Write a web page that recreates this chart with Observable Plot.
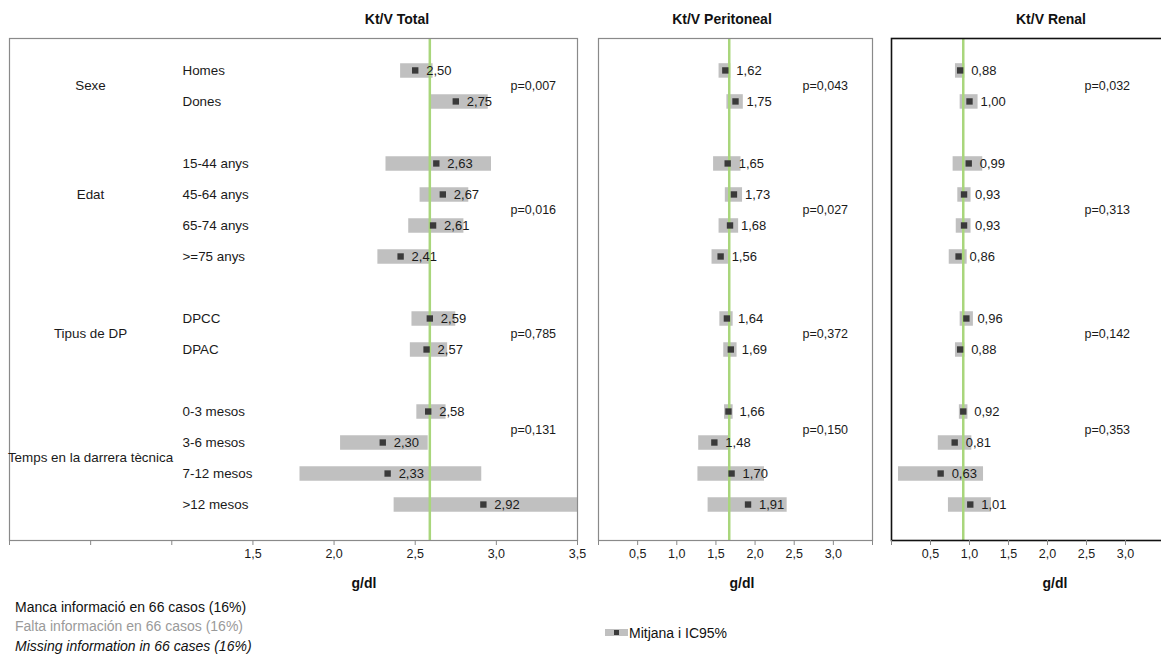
<!DOCTYPE html>
<html>
<head>
<meta charset="utf-8">
<script src="https://cdn.jsdelivr.net/npm/d3@7"></script>
<script src="https://cdn.jsdelivr.net/npm/@observablehq/plot@0.6"></script>
<style>
  html, body { margin: 0; padding: 0; background: #fff; }
  #wrap { position: relative; width: 1161px; height: 655px; overflow: hidden; font-family: "Liberation Sans", Arial, sans-serif; color: #111; }
  .abs { position: absolute; white-space: nowrap; }
  .title { font-weight: bold; font-size: 14px; transform: translate(-50%, -50%); }
  .note { font-size: 14px; transform: translateY(-50%); }
</style>
</head>
<body>
<div id="wrap"></div>
<script>
// ---- Data ----
const groups = ["Sexe", "Edat", "Tipus de DP", "Temps en la darrera tècnica"];
const categories = ["Homes", "Dones", "15-44 anys", "45-64 anys", "65-74 anys", ">=75 anys",
  "DPCC", "DPAC", "0-3 mesos", "3-6 mesos", "7-12 mesos", ">12 mesos"];
const categoryGroup = [0, 0, 1, 1, 1, 1, 2, 2, 3, 3, 3, 3];

const panelTitles = ["Kt/V Total", "Kt/V Peritoneal", "Kt/V Renal"];

const totalMean = [2.50, 2.75, 2.63, 2.67, 2.61, 2.41, 2.59, 2.57, 2.58, 2.30, 2.33, 2.92];
const totalLow  = [2.41, 2.59, 2.32, 2.53, 2.46, 2.27, 2.48, 2.47, 2.51, 2.04, 1.79, 2.37];
const totalHigh = [2.61, 2.95, 2.97, 2.83, 2.80, 2.59, 2.75, 2.70, 2.69, 2.58, 2.91, 3.52];

const periMean = [1.62, 1.75, 1.65, 1.73, 1.68, 1.56, 1.64, 1.69, 1.66, 1.48, 1.70, 1.91];
const periLow  = [1.54, 1.64, 1.47, 1.62, 1.54, 1.45, 1.55, 1.60, 1.61, 1.28, 1.27, 1.40];
const periHigh = [1.69, 1.85, 1.82, 1.84, 1.79, 1.66, 1.72, 1.77, 1.72, 1.67, 2.12, 2.41];

const renalMean = [0.88, 1.00, 0.99, 0.93, 0.93, 0.86, 0.96, 0.88, 0.92, 0.81, 0.63, 1.01];
const renalLow  = [0.82, 0.88, 0.79, 0.85, 0.83, 0.74, 0.88, 0.82, 0.87, 0.60, 0.09, 0.73];
const renalHigh = [0.94, 1.11, 1.17, 1.02, 1.02, 0.97, 1.05, 0.94, 0.98, 1.03, 1.18, 1.28];

const pTotal = ["p=0,007", "p=0,016", "p=0,785", "p=0,131"];
const pPeri  = ["p=0,043", "p=0,027", "p=0,372", "p=0,150"];
const pRenal = ["p=0,032", "p=0,313", "p=0,142", "p=0,353"];

const overallMean = [2.59, 1.67, 0.92];

const xTicks = [0, 0.5, 1.0, 1.5, 2.0, 2.5, 3.0, 3.5];
const labeledTicksTotal = [1.5, 2.0, 2.5, 3.0, 3.5];
const labeledTicksOther = [0.5, 1.0, 1.5, 2.0, 2.5, 3.0];

const notes = ["Manca informació en 66 casos (16%)", "Falta información en 66 casos (16%)", "Missing information in 66 cases (16%)"];
const legendLabel = "Mitjana i IC95%";
const axisLabel = "g/dl";

// ---- Layout helpers ----
const groupLabelRow = [0.5, 4, 8.5, 12.5];
const pRow = [0.5, 4.5, 8.5, 11.6];
const fmt = (v, n) => v.toFixed(n).replace(".", ",");
const FONT = "Liberation Sans, Arial, sans-serif";

function panel({left, width, marginLeft, marginRight, low, mean, high, pvals, overall, labeled, frameStroke, frameWidth, pDx, withLabels}) {
  const rows = categories.map((c, i) => ({cat: c, row: i + categoryGroup[i], low: low[i], mean: mean[i], high: high[i]}));
  const marks = [
    Plot.ruleY(rows, {y: "row", x1: "low", x2: "high", stroke: "#c0c0c0", strokeWidth: 14.5, clip: true}),
    Plot.ruleX([overall], {stroke: "#a9d67c", strokeWidth: 2.5}),
    Plot.dot(rows, {x: "mean", y: "row", symbol: "square", r: 3.6, fill: "#3a3a3a", stroke: null}),
    Plot.text(rows, {x: "mean", y: "row", text: d => fmt(d.mean, 2), dx: 11, textAnchor: "start", fill: "#1a1a1a", fontSize: 13}),
    Plot.text(pvals.map((p, k) => ({p, row: pRow[k]})), {y: "row", text: "p", frameAnchor: "right", dx: pDx, textAnchor: "start", fill: "#1a1a1a", fontSize: 12.5}),
    Plot.frame({stroke: frameStroke, strokeWidth: frameWidth}),
    Plot.axisX({ticks: xTicks, tickFormat: d => labeled.includes(d) ? fmt(d, 1) : "", tickSize: 5, tickPadding: 4,
      stroke: "#888", fill: "#1a1a1a", fontSize: 12.5, label: null})
  ];
  if (withLabels) {
    marks.push(Plot.text(rows, {y: "row", text: "cat", frameAnchor: "left", dx: 173, textAnchor: "start", fill: "#1a1a1a", fontSize: 13.4}));
    marks.push(Plot.text(groups.map((g, k) => ({g, row: groupLabelRow[k]})), {y: "row", text: "g", frameAnchor: "left", dx: 81, textAnchor: "middle", fill: "#1a1a1a", fontSize: 13.4}));
  }
  const svg = Plot.plot({
    width, height: 600,
    marginLeft, marginRight, marginTop: 38, marginBottom: 60,
    x: {domain: [0, 3.5], axis: null},
    y: {domain: [-1.03, 15.16], reverse: true, axis: null},
    style: {fontFamily: FONT, fontSize: "12px", background: "transparent", overflow: "visible", color: "#1a1a1a"},
    marks
  });
  svg.style.position = "absolute";
  svg.style.left = left + "px";
  svg.style.top = "0px";
  return svg;
}

const wrap = document.getElementById("wrap");
wrap.appendChild(panel({left: 0, width: 590, marginLeft: 9, marginRight: 13, low: totalLow, mean: totalMean, high: totalHigh,
  pvals: pTotal, overall: overallMean[0], labeled: labeledTicksTotal, frameStroke: "#8a8a8a", frameWidth: 1.2, pDx: -67, withLabels: true}));
wrap.appendChild(panel({left: 580, width: 310, marginLeft: 18, marginRight: 18, low: periLow, mean: periMean, high: periHigh,
  pvals: pPeri, overall: overallMean[1], labeled: labeledTicksOther, frameStroke: "#8a8a8a", frameWidth: 1.2, pDx: -70, withLabels: false}));
wrap.appendChild(panel({left: 880, width: 290, marginLeft: 11, marginRight: 6, low: renalLow, mean: renalMean, high: renalHigh,
  pvals: pRenal, overall: overallMean[2], labeled: labeledTicksOther, frameStroke: "#111", frameWidth: 1.6, pDx: -80, withLabels: false}));

function addDiv(text, cls, x, y, extra) {
  const d = document.createElement("div");
  d.className = "abs " + cls;
  d.textContent = text;
  d.style.left = x + "px";
  d.style.top = y + "px";
  Object.assign(d.style, extra || {});
  wrap.appendChild(d);
  return d;
}
const titleX = [397, 722, 1051];
const axisLabelX = [364, 742, 1055];
panelTitles.forEach((t, i) => addDiv(t, "title", titleX[i], 19));
axisLabelX.forEach(x => addDiv(axisLabel, "title", x, 583));

addDiv(notes[0], "note", 15, 607, {color: "#111"});
addDiv(notes[1], "note", 15, 626, {color: "#9a9a9a"});
addDiv(notes[2], "note", 15, 646, {color: "#111", fontStyle: "italic"});

// legend
const lg = document.createElement("div");
lg.className = "abs";
lg.style.left = "605px"; lg.style.top = "623px";
lg.innerHTML = '<span style="display:inline-block;position:relative;width:23px;height:7px;background:#c0c0c0;vertical-align:middle;">' +
  '<span style="position:absolute;left:9px;top:1px;width:5px;height:5px;background:#3a3a3a;"></span></span>' +
  '<span style="font-size:14px;vertical-align:middle;margin-left:1px;color:#111;"></span>';
lg.lastChild.textContent = legendLabel;
wrap.appendChild(lg);
</script>
</body>
</html>
